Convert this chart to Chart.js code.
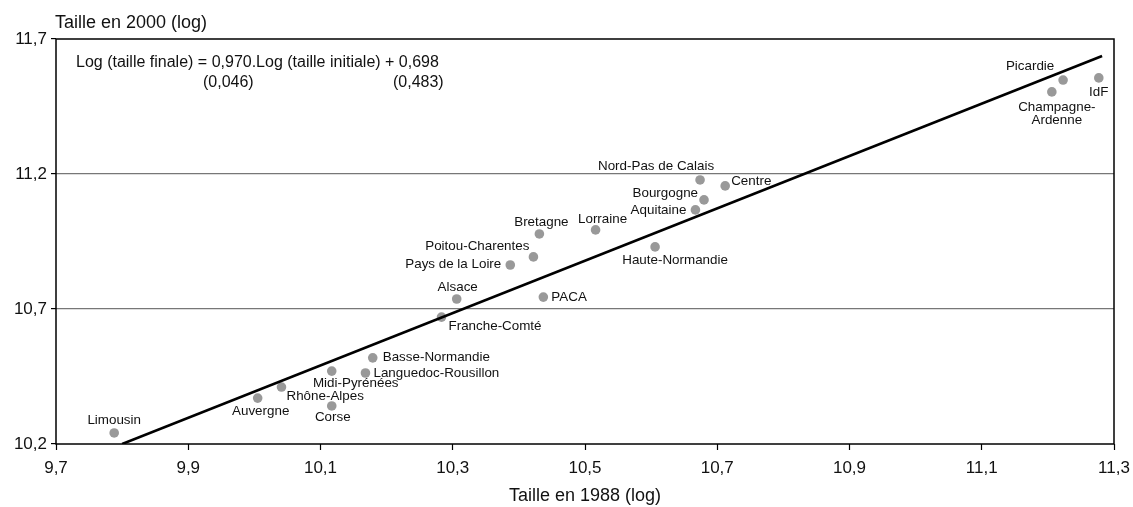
<!DOCTYPE html>
<html>
<head>
<meta charset="utf-8">
<script src="https://cdn.jsdelivr.net/npm/chart.js@4"></script>
<style>
    body { margin: 0; background: #fff; }
    .chart-box { width: 1133px; height: 507px; }
</style>
</head>
<body onload="onInit()">
<div class="chart-box"><canvas id="myChart"></canvas></div>
<script>
'use strict'

// regions, log size in 1988 (x) and in 2000 (y)
const regions = ['Limousin', 'Auvergne', 'Rhône-Alpes', 'Midi-Pyrénées', 'Corse',
    'Languedoc-Rousillon', 'Basse-Normandie', 'Franche-Comté', 'Alsace', 'PACA',
    'Pays de la Loire', 'Poitou-Charentes', 'Bretagne', 'Lorraine', 'Haute-Normandie',
    'Aquitaine', 'Bourgogne', 'Nord-Pas de Calais', 'Centre', 'Champagne-\nArdenne',
    'Picardie', 'IdF']
const size1988 = [9.788, 10.005, 10.041, 10.117, 10.117, 10.168, 10.179, 10.283, 10.306, 10.437,
    10.387, 10.422, 10.431, 10.516, 10.606, 10.667, 10.680, 10.674, 10.712, 11.206,
    11.223, 11.277]
const size2000 = [10.241, 10.370, 10.411, 10.470, 10.341, 10.463, 10.519, 10.670, 10.737, 10.744,
    10.863, 10.893, 10.978, 10.993, 10.930, 11.067, 11.104, 11.178, 11.156, 11.504,
    11.548, 11.556]

// regression line end points
const regLineX = [9.80, 11.282]
const regLineY = [10.20, 11.637]

const xTicks = [9.7, 11.3, 0.2]   // min, max, step
const yTicks = [10.2, 11.7, 0.5]
const gridValues = [10.7, 11.2]

// label placement: [dx, dy, align]
const labelPlace = [
    [0, -13, 'center'], [3, 13, 'center'], [5, 9, 'left'], [24, 12, 'center'], [1, 11, 'center'],
    [8, 0, 'left'], [10, -1, 'left'], [7, 9, 'left'], [1, -12, 'center'], [8, 0, 'left'],
    [-9, -1, 'right'], [-4, -11, 'right'], [2, -12, 'center'], [7, -11, 'center'], [20, 13, 'center'],
    [-9, 0, 'right'], [-6, -7, 'right'], [-44, -14, 'center'], [6, -5, 'left'], [5, 15, 'center'],
    [-33, -14, 'center'], [0, 14, 'center']
]

const FONT = "'Liberation Sans', Arial, Helvetica, sans-serif"

var gChart

function onInit() {
    renderChart()
}

function fmt(val) {
    return (+val).toFixed(1).replace('.', ',')
}

const textPlugin = {
    id: 'texts',
    afterDatasetsDraw(chart) {
        const ctx = chart.ctx
        const area = chart.chartArea
        ctx.save()

        // frame
        ctx.strokeStyle = '#000'
        ctx.lineWidth = 1.5
        ctx.strokeRect(area.left, area.top, area.right - area.left, area.bottom - area.top)

        ctx.fillStyle = '#111'
        ctx.font = '18px ' + FONT
        ctx.textAlign = 'left'
        ctx.textBaseline = 'alphabetic'
        ctx.fillText('Taille en 2000 (log)', area.left - 1, 28)

        ctx.font = '16px ' + FONT
        ctx.textBaseline = 'middle'
        ctx.fillText('Log (taille finale) = 0,970.Log (taille initiale) + 0,698', area.left + 20, 63)
        ctx.fillText('(0,046)', area.left + 147, 83)
        ctx.fillText('(0,483)', area.left + 337, 83)

        // point labels
        const meta = chart.getDatasetMeta(0)
        ctx.font = '13.4px ' + FONT
        meta.data.forEach((pt, idx) => {
            const place = labelPlace[idx]
            ctx.textAlign = place[2]
            const lines = regions[idx].split('\n')
            lines.forEach((line, i) => {
                ctx.fillText(line, pt.x + place[0], pt.y + place[1] + i * 13)
            })
        })
        ctx.restore()
    }
}

function renderChart() {
    const ctx = document.getElementById('myChart')
    gChart = new Chart(ctx, {
        type: 'scatter',
        data: {
            datasets: [{
                label: 'Régions',
                data: size1988.map((x, idx) => ({ x, y: size2000[idx] })),
                backgroundColor: '#999999',
                borderWidth: 0,
                pointRadius: 4.8,
                order: 2
            }, {
                type: 'line',
                label: 'Régression',
                data: regLineX.map((x, idx) => ({ x, y: regLineY[idx] })),
                borderColor: '#000',
                borderWidth: 2.6,
                pointRadius: 0,
                fill: false,
                order: 1
            }]
        },
        options: {
            responsive: true,
            maintainAspectRatio: false,
            animation: false,
            layout: { padding: { top: 39, right: 19, left: 0, bottom: 0 } },
            plugins: {
                legend: { display: false },
                tooltip: { enabled: false }
            },
            scales: {
                x: {
                    type: 'linear',
                    min: xTicks[0],
                    max: xTicks[1],
                    afterFit: scale => {
                        scale.height = 63
                        scale.paddingLeft = 0
                        scale.paddingRight = 0
                    },
                    ticks: {
                        stepSize: xTicks[2],
                        callback: fmt,
                        color: '#111',
                        padding: 8,
                        font: { size: 17, family: FONT }
                    },
                    grid: {
                        drawOnChartArea: false,
                        drawTicks: true,
                        tickLength: 6,
                        tickColor: '#000',
                        tickWidth: 1.2
                    },
                    border: { display: false },
                    title: {
                        display: true,
                        text: 'Taille en 1988 (log)',
                        color: '#111',
                        padding: 0,
                        font: { size: 18, family: FONT }
                    }
                },
                y: {
                    type: 'linear',
                    min: yTicks[0],
                    max: yTicks[1],
                    afterFit: scale => {
                        scale.width = 56
                        scale.paddingTop = 0
                        scale.paddingBottom = 0
                    },
                    ticks: {
                        stepSize: yTicks[2],
                        callback: fmt,
                        color: '#111',
                        padding: 4,
                        font: { size: 17, family: FONT }
                    },
                    grid: {
                        color: c => gridValues.some(v => Math.abs(v - c.tick.value) < 1e-6) ? '#777' : 'rgba(0,0,0,0)',
                        lineWidth: 1.2,
                        drawTicks: true,
                        tickLength: 5,
                        tickColor: '#000',
                        tickWidth: 1.2
                    },
                    border: { display: false }
                }
            }
        },
        plugins: [textPlugin]
    })
}
</script>
</body>
</html>
